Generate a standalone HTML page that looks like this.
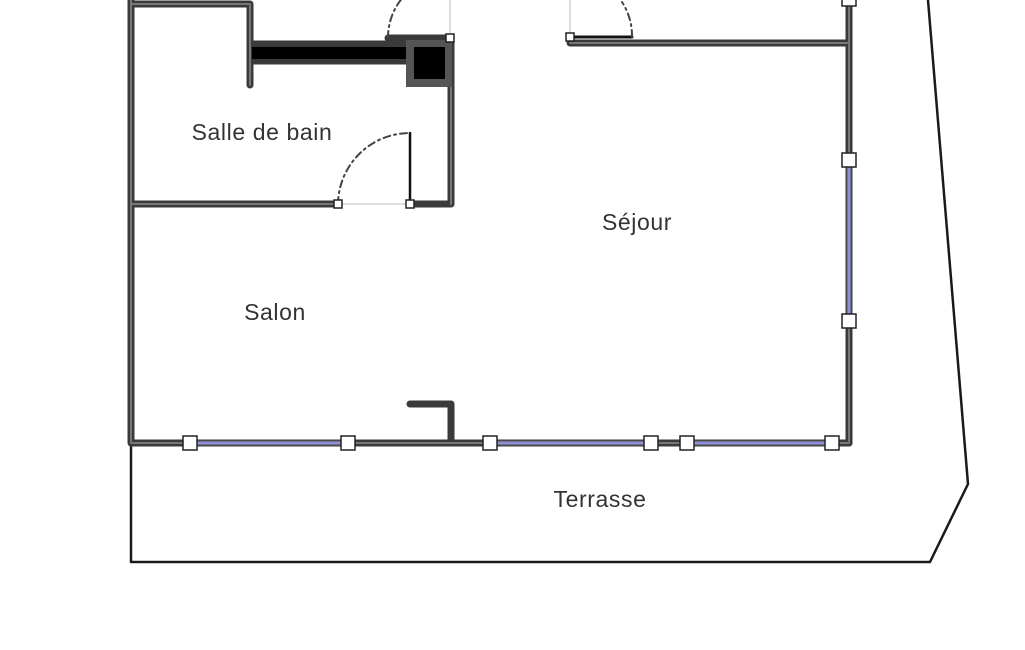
<!DOCTYPE html>
<html><head><meta charset="utf-8"><style>
html,body{margin:0;padding:0;background:#fff;}
svg{display:block;}
text{font-family:"Liberation Sans",sans-serif;font-size:23px;letter-spacing:0.6px;fill:#333;}
</style></head><body>
<svg width="1025" height="650" viewBox="0 0 1025 650" xmlns="http://www.w3.org/2000/svg">
<g fill="none" stroke-linecap="round" stroke-linejoin="round">
<path d="M131 443 L131 562 L930 562 L968 484 L928 0" stroke="#1a1a1a" stroke-width="2.5"/>
<path d="M450 0 L450 38 M570 0 L570 38 M338 204 L410 204" stroke="#bbb" stroke-width="1"/>
<g stroke="#3a3a3a" stroke-width="7">
<path d="M131 0 L131 443 L849 443"/>
<path d="M131 4 L250 4 L250 85"/>
<path d="M451 40 L451 204 L410 204"/>
<path d="M131 204 L338 204"/>
<path d="M570 43 L849 43"/>
<path d="M849 0 L849 443"/>
<path d="M451 443 L451 404 L410 404"/>
<path d="M250 44 L410 44 M250 61 L410 61"/>
<path d="M388 38 L450 38"/>
</g>
<g stroke="#777" stroke-width="2">
<path d="M131 0 L131 443 L849 443 M849 0 L849 443 M570 43 L849 43 M131 204 L338 204 M451 40 L451 204 M131 4 L250 4 L250 85"/>
</g>
<rect x="252" y="47" width="156" height="12" fill="#000" stroke="none"/>
<rect x="406" y="40" width="46" height="47" fill="#555" stroke="none"/>
<rect x="414" y="47" width="31" height="32" fill="#000" stroke="none"/>
<g stroke="#8f8fd8" stroke-width="4">
<path d="M190 443 L348 443 M490 443 L651 443 M687 443 L832 443 M849 160 L849 321"/>
</g>
<g stroke="#555" stroke-width="1">
<path d="M190 441 L348 441 M490 441 L651 441 M687 441 L832 441 M190 445 L348 445 M490 445 L651 445 M687 445 L832 445 M847 160 L847 321 M851 160 L851 321"/>
</g>
<path d="M410 133 L410 204" stroke="#111" stroke-width="2.5"/>
<path d="M570 37 L632 37" stroke="#111" stroke-width="3"/>
<g stroke="#444" stroke-width="2" stroke-dasharray="7 4 2 4">
<path d="M338 204 A72 72 0 0 1 410 133"/>
<path d="M388 38 A62 62 0 0 1 405 -5"/>
<path d="M632 37 A62 62 0 0 0 622 2"/>
</g>
</g>
<g fill="#fff" stroke="#222" stroke-width="1.5">
<rect x="183" y="436" width="14" height="14"/>
<rect x="341" y="436" width="14" height="14"/>
<rect x="483" y="436" width="14" height="14"/>
<rect x="644" y="436" width="14" height="14"/>
<rect x="680" y="436" width="14" height="14"/>
<rect x="825" y="436" width="14" height="14"/>
<rect x="842" y="153" width="14" height="14"/>
<rect x="842" y="314" width="14" height="14"/>
<rect x="842" y="-6" width="14" height="12"/>
<rect x="446" y="34" width="8" height="8"/>
<rect x="566" y="33" width="8" height="8"/>
<rect x="334" y="200" width="8" height="8"/>
<rect x="406" y="200" width="8" height="8"/>
</g>
<text x="262" y="140" text-anchor="middle">Salle de bain</text>
<text x="637" y="230" text-anchor="middle">Séjour</text>
<text x="275" y="320" text-anchor="middle">Salon</text>
<text x="600" y="507" text-anchor="middle">Terrasse</text>
</svg>
</body></html>
